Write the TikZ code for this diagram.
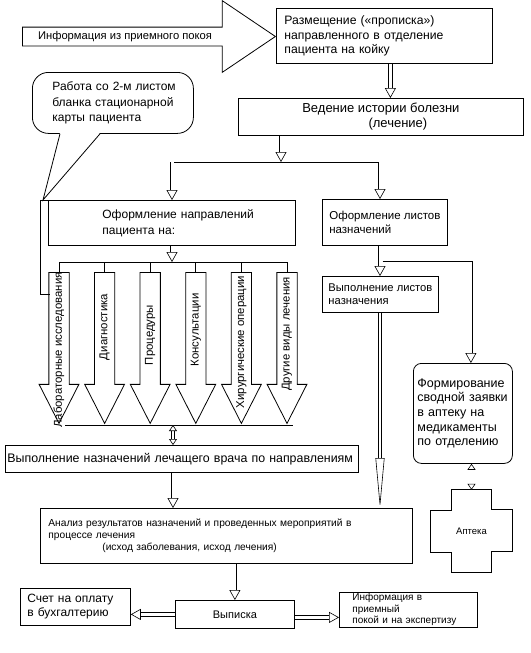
\documentclass[tikz,border=0pt]{standalone}
\usepackage{fontspec}
\setmainfont{Liberation Sans}
\usetikzlibrary{positioning,arrows.meta,calc,shapes.arrows}
\newcommand{\fsz}[2]{\fontsize{#1}{#2}\selectfont}

\begin{document}
\begin{tikzpicture}[
  x=1pt, y=-1pt,
  box/.style={draw, line width=0.8pt, anchor=north west, align=left, inner ysep=0pt},
  harrow/.style={double, double distance=3pt, line width=0.6pt,
    -{Triangle[fill=white, length=10pt, width=11pt, line width=0.6pt]}},
  dharrow/.style={double, double distance=2.4pt, line width=0.6pt,
    {Triangle[fill=white, length=6pt, width=8pt, line width=0.6pt]}-{Triangle[fill=white, length=6pt, width=8pt, line width=0.6pt]}},
  longarrow/.style={double, double distance=2.6pt, line width=0.6pt,
    -{Triangle[fill=white, length=50pt, width=9pt, line width=0.6pt]}},
  bigarr/.style={shape=single arrow, draw, line width=0.8pt, fill=white, inner sep=9.75pt,
    minimum height=151pt, single arrow head extend=9.75pt, single arrow tip angle=54,
    shape border rotate=270, anchor=tail},
  infoarr/.style={shape=single arrow, draw, line width=0.8pt, inner sep=9pt,
    minimum height=253pt, single arrow head extend=26.5pt, single arrow tip angle=68,
    anchor=tail},
  vtext/.style={rotate=90, font=\fsz{11.4}{13}},
  wire/.style={line width=0.7pt}
]
  \useasboundingbox (0,0) rectangle (530,653);
  \fill[white] (0,0) rectangle (530,653);

  % top: incoming information
  \node[infoarr] (info) at (22,36.5) {};
  \node[font=\fsz{11.2}{13}] (infot) at (125,37) {Информация из приемного покоя};
  \node[box, minimum width=216pt, minimum height=55pt, text width=200pt, inner xsep=8pt,
    font=\fsz{12.2}{14.5}] (place) at (276,8)
    {Размещение («прописка»)\\направленного в отделение\\пациента на койку};
  \node[box, minimum width=285pt, minimum height=37pt, align=center,
    font=\fsz{13}{15}] (history) at (238,98)
    {Ведение истории болезни\\\hspace*{34pt}(лечение)};

  % callout
  \node[box, rounded corners=16pt, minimum width=161pt, minimum height=61pt,
    text width=141pt, inner xsep=10pt, font=\fsz{12}{15.5}] (callout) at (32,72)
    {\hspace*{10pt}Работа со 2-м листом\\\hspace*{10pt}бланка стационарной\\\hspace*{10pt}карты пациента};
  \coordinate (ctip) at (43,200);
  \fill[white] ([xshift=28pt,yshift=1pt]callout.south west) -- (ctip)
    -- ([xshift=68pt,yshift=1pt]callout.south west) -- cycle;
  \draw[line width=0.8pt] ([xshift=28pt]callout.south west) -- (ctip)
    -- ([xshift=68pt]callout.south west);

  % second row
  \node[box, minimum width=247pt, minimum height=45pt, text width=239pt, inner xsep=4pt,
    font=\fsz{12}{16}] (napr) at (48,200)
    {\hspace*{50pt}Оформление направлений\\\hspace*{50pt}пациента на:};
  \node[box, minimum width=125pt, minimum height=46pt, inner xsep=2pt,
    font=\fsz{11.5}{14}] (lists) at (322,199) {Оформление листов\\назначений};
  \node[box, minimum width=116pt, minimum height=36pt, inner xsep=2pt,
    font=\fsz{11.2}{13}] (vyp) at (322,276) {Выполнение листов\\назначения};
  \node[box, rounded corners=8pt, minimum width=99pt, minimum height=100pt,
    text width=91pt, inner xsep=4pt, font=\fsz{12.5}{14.7}] (form) at (413,363)
    {Формирование\\сводной заявки\\в аптеку на\\медикаменты\\по отделению};

  % pharmacy cross
  \node[minimum width=40pt, minimum height=82pt, font=\fsz{9.5}{11}] (apteka)
    at (471.5,531) {Аптека};
  \draw[line width=0.8pt] (apteka.north west) -- (apteka.north east) -- ++(0,20)
    -- ++(20.5,0) -- ++(0,42) -- ++(-20.5,0) |- (apteka.south west) -- ++(0,-20)
    -- ++(-20.5,0) -- ++(0,-42) -- ++(20.5,0) -- cycle;

  % lower boxes
  \node[box, minimum width=353pt, minimum height=27pt, text width=349pt, inner xsep=2pt,
    font=\fsz{12.4}{14}] (execdoc) at (5,445)
    {Выполнение назначений лечащего врача по направлениям};
  \node[box, minimum width=372pt, minimum height=55pt, text width=356pt, inner xsep=8pt,
    font=\fsz{10.2}{12}] (analysis) at (40,508)
    {Анализ результатов назначений и проведенных мероприятий в\\процессе лечения\\
     \hspace*{54pt}(исход заболевания, исход лечения)};
  \node[box, minimum width=119pt, minimum height=28pt, align=center,
    font=\fsz{11}{13}] (vypiska) at (175,600) {Выписка};
  \node[box, minimum width=110pt, minimum height=37pt, text width=96pt, inner xsep=7pt,
    font=\fsz{12}{14}] (schet) at (20,588) {Счет на оплату\\в бухгалтерию};
  \node[box, minimum width=138pt, minimum height=35pt, text width=112pt, inner xsep=13pt,
    font=\fsz{10}{11.5}] (infopr) at (339,592)
    {Информация в\\приемный\\покой и на экспертизу};

  % kinds of referrals
  \coordinate (busT) at (172,262);
  \coordinate (busB) at (173,425);
  \foreach \x/\nm/\ty/\txt in {59/lab/350/Лабораторные исследования,
      104.6/diag/327/Диагностика, 150.2/proc/335/Процедуры,
      195.8/kons/330/Консультации, 241.4/hir/342/Хирургические операции,
      287/oth/334/Другие виды лечения}{
    \node[bigarr] (\nm) at (\x,272) {};
    \node[vtext] (\nm-t) at (\x,\ty) {\txt};
    \draw[wire] (\nm.tail) -- (\nm.tail |- busT);
  }
  \draw[wire] (lab.tail |- busT) -- (oth.tail |- busT);
  \draw[wire] ([xshift=6pt]lab.tip |- busB) -- ([xshift=6pt]oth.tip |- busB);
  \coordinate (labin) at (49.5,294);
  \draw[wire] (napr.north west) -- ++(-8,0) |- (labin);

  % connectors
  \coordinate (splitM) at (281,162);
  \coordinate (splitA) at (172,162);
  \coordinate (splitB) at (380,162);
  \coordinate (lx) at (380,263);
  \draw[harrow] ([xshift=6pt]place.south) -- ([xshift=6pt]place.south |- history.north);
  \draw[harrow] (history.south -| splitM) -- (splitM);
  \draw[wire] (splitA) -- (splitB);
  \draw[harrow] (splitA) -- (splitA |- napr.north);
  \draw[harrow] (splitB) -- (splitB |- lists.north);
  \draw[harrow] (napr.south -| busT) -- (busT);
  \draw[harrow] (lx |- lists.south) -- (lx |- vyp.north);
  \draw[harrow] ([xshift=2.5pt]lx) -| ([xshift=8pt]form.north);
  \draw[longarrow] (lx |- vyp.south) -- (lx |- analysis.north);
  \draw[dharrow] (apteka.north |- form.south) -- (apteka.north);
  \draw[dharrow] (busB) -- (busB |- execdoc.north);
  \draw[harrow] (busB |- execdoc.south) -- (busB |- analysis.north);
  \draw[harrow] (vypiska.north |- analysis.south) -- (vypiska.north);
  \draw[harrow] (vypiska.west) -- (vypiska.west -| schet.east);
  \draw[harrow] ([yshift=-3pt]vypiska.east) -- ([yshift=-3pt]vypiska.east -| infopr.west);
\end{tikzpicture}
\end{document}
